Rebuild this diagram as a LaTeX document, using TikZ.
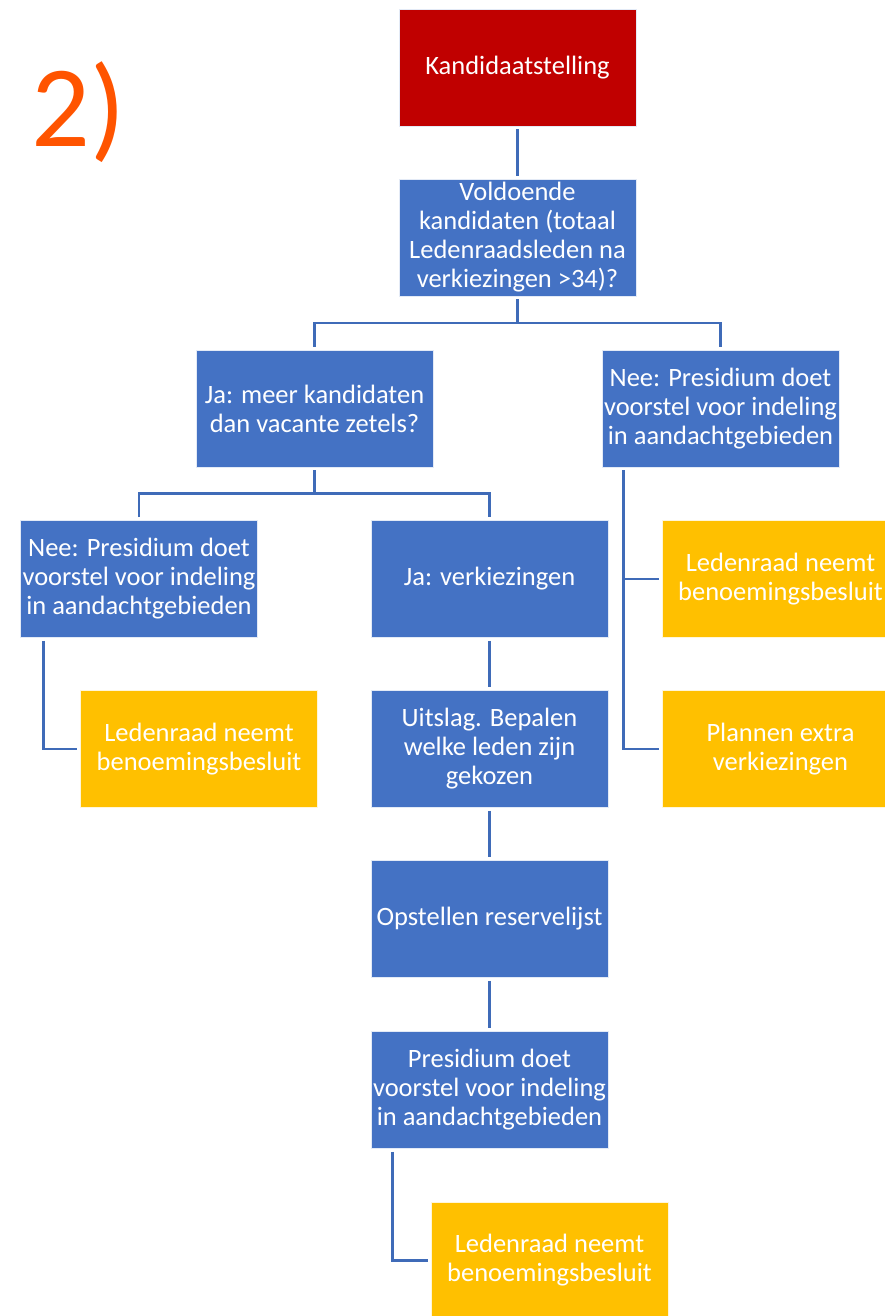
\documentclass[tikz,border=0pt]{standalone}
\usepackage{fontspec}
\setmainfont{Carlito}
\usetikzlibrary{calc}
\definecolor{bx}{HTML}{4472C4}
\definecolor{rd}{HTML}{C00000}
\definecolor{yl}{HTML}{FFC000}
\definecolor{ln}{HTML}{3F6BB8}
\definecolor{org}{HTML}{FF5400}
\tikzset{
  box/.style={minimum width=237pt, minimum height=117pt, inner sep=1pt, align=center,
    text=white, font=\fontsize{26.5}{29}\selectfont, draw=white!85!bx, line width=0.6pt},
  bluebox/.style={box, fill=bx},
  redbox/.style={box, fill=rd},
  yellowbox/.style={box, fill=yl, draw=white!85!yl},
  conn/.style={draw=ln, line width=2.6pt}
}
\begin{document}
\begin{tikzpicture}[x=1pt,y=-1pt]
\useasboundingbox (0,0) rectangle (885,1316);
\clip (0,0) rectangle (885,1316);
\fill[white] (0,0) rectangle (885,1316);

\node[anchor=base west, inner sep=0pt, text=org, font=\fontsize{116}{130}\selectfont] (num) at (31,147) {2)};

\node[redbox] (kand) at (517.5,67.5) {Kandidaatstelling};
\node[bluebox] (vold) at (517.5,237.5) {Voldoende\\kandidaten (totaal\\Ledenraadsleden na\\verkiezingen >34)?};
\node[bluebox] (jameer) at (314.5,408.5) {Ja: meer kandidaten\\dan vacante zetels?};
\node[bluebox] (neeR) at (720.5,408.5) {Nee: Presidium doet\\voorstel voor indeling\\in aandachtgebieden};
\node[bluebox] (neeL) at (139,579) {Nee: Presidium doet\\voorstel voor indeling\\in aandachtgebieden};
\node[bluebox] (javerk) at (489.5,579) {Ja: verkiezingen};
\node[yellowbox] (ledR) at (780.5,579) {Ledenraad neemt\\benoemingsbesluit};
\node[bluebox] (uitslag) at (489.5,749) {Uitslag. Bepalen\\welke leden zijn\\gekozen};
\node[yellowbox] (ledL) at (199,749) {Ledenraad neemt\\benoemingsbesluit};
\node[yellowbox] (plannen) at (780.5,749) {Plannen extra\\verkiezingen};
\node[bluebox] (opst) at (489.5,919) {Opstellen reservelijst};
\node[bluebox] (pres) at (489.5,1090) {Presidium doet\\voorstel voor indeling\\in aandachtgebieden};
\node[yellowbox] (ledB) at (549.5,1260.5) {Ledenraad neemt\\benoemingsbesluit};

\draw[conn] ([yshift=-3pt]kand.south) -- ([yshift=3pt]vold.north);
\coordinate (b1) at ($(vold.south)+(0,26.5)$);
\draw[conn] ([yshift=-3pt]vold.south) -- (b1);
\draw[conn] ([yshift=3pt]jameer.north) |- (b1) -| ([yshift=3pt]neeR.north);
\coordinate (b2) at ($(jameer.south)+(0,26)$);
\draw[conn] ([yshift=-3pt]jameer.south) -- (b2);
\draw[conn] ([yshift=3pt]neeL.north) |- (b2) -| ([yshift=3pt]javerk.north);

\draw[conn] ($(neeR.south west)+(22,3)$) |- ([xshift=-3pt]ledR.west);
\draw[conn] ($(neeR.south west)+(22,3)$) |- ([xshift=-3pt]plannen.west);
\draw[conn] ($(neeL.south west)+(23,3)$) |- ([xshift=-3pt]ledL.west);

\draw[conn] ([yshift=-3pt]javerk.south) -- ([yshift=3pt]uitslag.north);
\draw[conn] ([yshift=-3pt]uitslag.south) -- ([yshift=3pt]opst.north);
\draw[conn] ([yshift=-3pt]opst.south) -- ([yshift=3pt]pres.north);
\draw[conn] ($(pres.south west)+(22,3)$) |- ([xshift=-3pt]ledB.west);
\end{tikzpicture}
\end{document}
